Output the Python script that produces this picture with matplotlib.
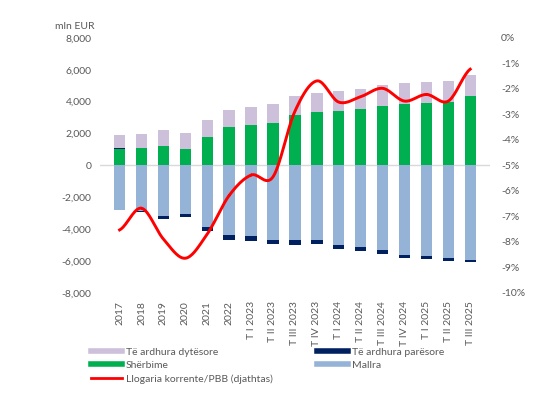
import numpy as np
import matplotlib
matplotlib.use('Agg')
import matplotlib.pyplot as plt
from matplotlib.lines import Line2D

plt.rcParams['font.family'] = ['Lato', 'DejaVu Sans']
plt.rcParams['axes.unicode_minus'] = False

labels = ['2017', '2018', '2019', '2020', '2021', '2022', 'T I 2023', 'T II 2023',
          'T III 2023', 'T IV 2023', 'T I 2024', 'T II 2024', 'T III 2024',
          'T IV 2024', 'T I 2025', 'T II 2025', 'T III 2025']

# mln EUR
sherbime = [1050, 1095, 1240, 1010, 1770, 2380, 2530, 2670, 3140, 3370, 3410,
            3540, 3700, 3850, 3920, 3960, 4360]
dytesore = [830, 885, 970, 1010, 1090, 1110, 1130, 1180, 1200, 1180, 1240,
            1240, 1310, 1310, 1320, 1320, 1320]
paresore = [40, -80, -170, -230, -230, -330, -330, -300, -320, -280, -250,
            -250, -210, -190, -190, -170, -110]
mallra = [-2830, -2850, -3200, -3020, -3890, -4350, -4410, -4660, -4660, -4660,
          -5020, -5150, -5320, -5630, -5680, -5800, -5930]
# % of GDP (right axis)
llogaria = [-7.53, -6.68, -7.89, -8.64, -7.69, -6.18, -5.38, -5.45, -2.88, -1.69,
            -2.52, -2.31, -1.98, -2.48, -2.22, -2.48, -1.23]

c_dyt = '#CCC0DA'
c_par = '#002060'
c_she = '#00B050'
c_mal = '#95B3D7'
c_line = '#FF0000'
txt = '#595959'

x = np.arange(len(labels))
w = 0.52
sherbime = np.array(sherbime)
dytesore = np.array(dytesore)
paresore = np.array(paresore)
mallra = np.array(mallra)

par_pos = np.where(paresore > 0, paresore, 0)
par_neg = np.where(paresore < 0, paresore, 0)

fig = plt.figure(figsize=(5.58, 3.98), dpi=100)
ax = fig.add_axes([0.179, 0.264, 0.699, 0.641])

ax.bar(x, mallra, w, color=c_mal, zorder=2)
ax.bar(x, par_neg, w, bottom=mallra, color=c_par, zorder=2)
ax.bar(x, sherbime, w, color=c_she, zorder=2)
ax.bar(x, par_pos, w, bottom=sherbime, color=c_par, zorder=2)
ax.bar(x, dytesore, w, bottom=sherbime + par_pos, color=c_dyt, zorder=2)
ax.axhline(0, color='#D9D9D9', lw=1, zorder=1)

ax.set_ylim(-8000, 8000)
ax.set_yticks(range(-8000, 8001, 2000))
ax.set_yticklabels(['{:,}'.format(v) for v in range(-8000, 8001, 2000)])
ax.set_xlim(-0.9, len(labels) - 0.1)
ax.set_xticks(x)
ax.set_xticklabels(labels, rotation=90)
ax.tick_params(length=0, labelsize=7.5, colors=txt, pad=6)
for s in ax.spines.values():
    s.set_visible(False)
ax.text(-0.115, 1.025, 'mln EUR', transform=ax.transAxes, fontsize=7.5,
        color=txt, ha='left', va='bottom')

# smoothed line (Catmull-Rom through the data points)
ax2 = ax.twinx()
y = np.array(llogaria)
xs, ys = [], []
yp = np.concatenate([[y[0]], y, [y[-1]]])
for i in range(len(y) - 1):
    p0, p1, p2, p3 = yp[i], yp[i + 1], yp[i + 2], yp[i + 3]
    t = np.linspace(0, 1, 20)
    seg = 0.5 * ((2 * p1) + (-p0 + p2) * t + (2 * p0 - 5 * p1 + 4 * p2 - p3) * t ** 2
                 + (-p0 + 3 * p1 - 3 * p2 + p3) * t ** 3)
    xs.extend(x[i] + t)
    ys.extend(seg)
ax2.plot(xs, ys, color=c_line, lw=2.1, zorder=3)
ax2.set_ylim(-10, 0)
ax2.set_yticks(range(-10, 1))
ax2.set_yticklabels(['%d%%' % v for v in range(-10, 1)])
ax2.tick_params(length=0, labelsize=7.5, colors=txt, pad=8)
for s in ax2.spines.values():
    s.set_visible(False)

h1 = [Line2D([], [], color=c_dyt, lw=4), Line2D([], [], color=c_she, lw=4),
      Line2D([], [], color=c_line, lw=2)]
l1 = ['Të ardhura dytësore', 'Shërbime', 'Llogaria korrente/PBB (djathtas)']
h2 = [Line2D([], [], color=c_par, lw=4), Line2D([], [], color=c_mal, lw=4)]
l2 = ['Të ardhura parësore', 'Mallra']
leg1 = fig.legend(h1, l1, loc='upper left', bbox_to_anchor=(0.155, 0.138),
                  frameon=False, fontsize=7.5, handlelength=3, labelspacing=0.4,
                  handletextpad=0.4, labelcolor=txt, borderaxespad=0)
leg2 = fig.legend(h2, l2, loc='upper left', bbox_to_anchor=(0.56, 0.138),
                  frameon=False, fontsize=7.5, handlelength=3, labelspacing=0.4,
                  handletextpad=0.4, labelcolor=txt, borderaxespad=0)

fig.savefig('out.png', dpi=100)
